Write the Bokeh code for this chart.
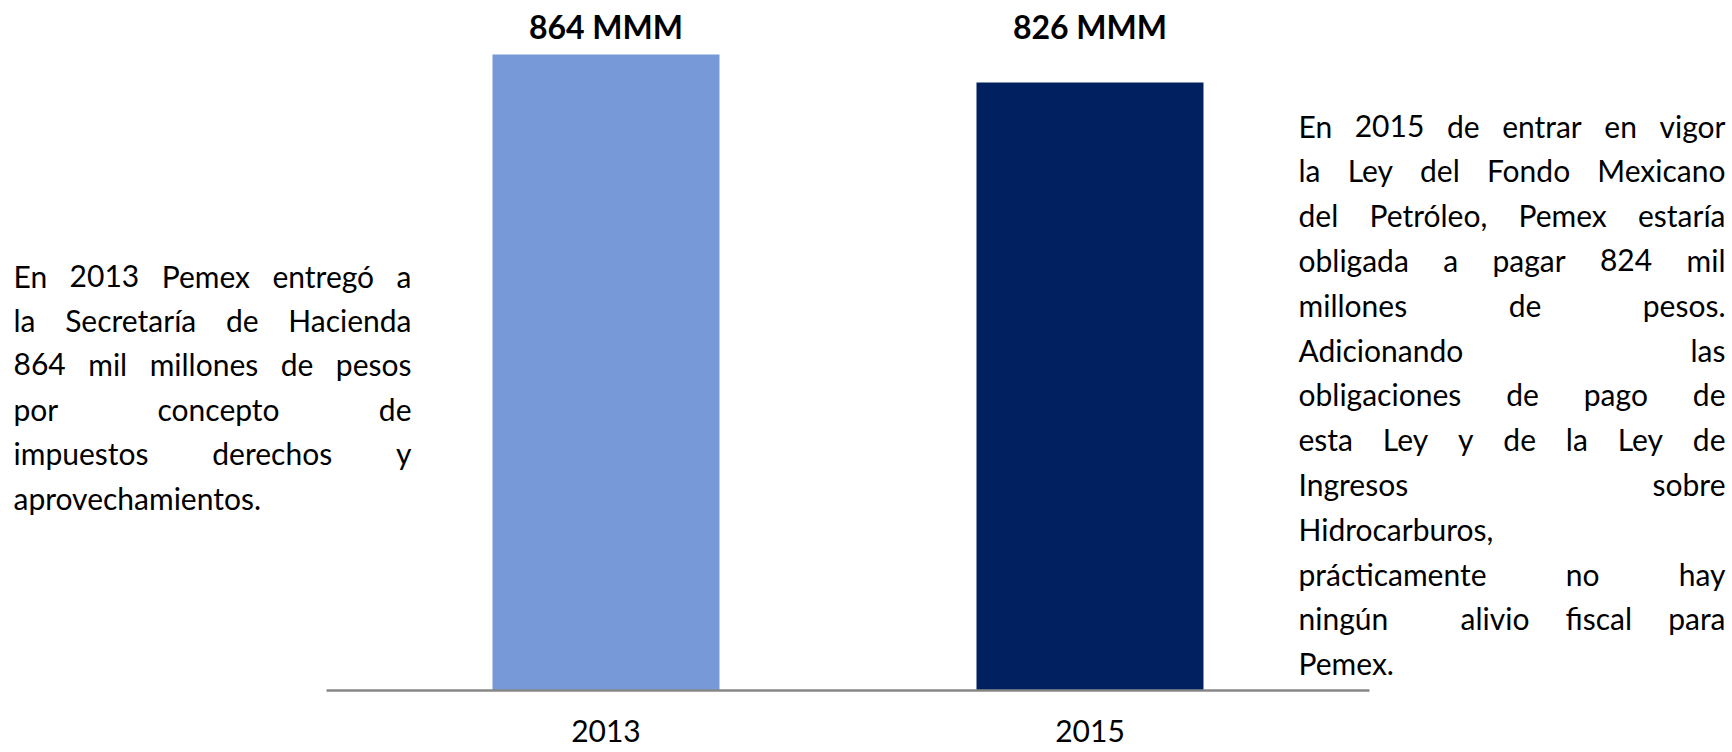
import glob
from bokeh.plotting import figure
from bokeh.models import ColumnDataSource, LabelSet, Label, Range1d, FixedTicker
from bokeh.core.properties import value
from bokeh.embed import file_html
from bokeh.resources import INLINE

# ---------------- data ----------------
years = ["2013", "2015"]
values = [864, 826]
bar_colors = ["#7799D8", "#002060"]
value_labels = [f"{v} MMM" for v in values]

left_lines = [
    "En 2013 Pemex entregó a",
    "la Secretaría de Hacienda",
    "864 mil millones de pesos",
    "por concepto de",
    "impuestos derechos y",
    "aprovechamientos.",
]
left_justify = [True, True, True, True, True, False]

right_lines = [
    "En 2015 de entrar en vigor",
    "la Ley del Fondo Mexicano",
    "del Petróleo, Pemex estaría",
    "obligada a pagar 824 mil",
    "millones de pesos.",
    "Adicionando las",
    "obligaciones de pago de",
    "esta Ley y de la Ley de",
    "Ingresos sobre",
    "Hidrocarburos,",
    "prácticamente no hay",
    "ningún  alivio fiscal para",
    "Pemex.",
]
right_justify = [True, True, True, True, True, True, True, True, True, False, True, True, False]

# ---------------- layout ----------------
W, H = 1732, 752
FONT = "Lato"
BODY_SIZE = 30

_measure = None
try:
    from PIL import ImageFont
    cands = []
    for d in ["/usr/share/fonts", "/usr/local/share/fonts", "/root/.fonts", "/root/.local/share/fonts"]:
        cands += glob.glob(d + "/**/Lato*.ttf", recursive=True)
    cands = [c for c in cands if "Italic" not in c and ("Regular" in c or "Reg" in c)]
    if cands:
        _f = ImageFont.truetype(sorted(cands)[0], BODY_SIZE)
        _measure = lambda s: _f.getlength(s)
except Exception:
    _measure = None

_em = {
    "a": .50, "b": .56, "c": .46, "d": .56, "e": .52, "f": .33, "g": .50, "h": .56,
    "i": .24, "j": .24, "k": .50, "l": .24, "m": .84, "n": .56, "o": .56, "p": .56,
    "q": .56, "r": .37, "s": .42, "t": .35, "u": .56, "v": .51, "w": .78, "x": .50,
    "y": .51, "z": .45, "í": .24, "ó": .56, "á": .50, "ú": .56, ".": .21, ",": .21,
    "M": .88, "E": .56, "P": .58, "L": .47, "F": .54, "S": .50, "H": .75, "A": .68,
    "I": .27, " ": .19,
}


def measure(s):
    if _measure is not None:
        return _measure(s)
    return sum(_em.get(ch, .58 if ch.isdigit() else .62) for ch in s) * BODY_SIZE


xs = list(range(len(years)))
vmax = max(values)

p = figure(
    x_range=Range1d(-1.2510, 2.3275),
    y_range=Range1d(-0.0975 * vmax, 1.0849 * vmax),
    width=W, height=H,
    output_backend="svg", toolbar_location=None,
    y_axis_location=None,
    min_border_left=0, min_border_right=0,
    min_border_top=0, min_border_bottom=0,
)
p.outline_line_color = None
p.xgrid.visible = False
p.ygrid.visible = False
p.background_fill_color = "white"
p.border_fill_color = "white"

src = ColumnDataSource(dict(x=xs, top=values, color=bar_colors,
                            label=value_labels, ly=[vmax] * len(values)))
p.vbar(x="x", top="top", bottom=0, width=0.469, color="color", line_color=None, source=src)

p.add_layout(LabelSet(x="x", y="ly", text="label", source=src, y_offset=15,
                      text_align="center", text_baseline="alphabetic",
                      text_font=value(FONT), text_font_style="bold",
                      text_font_size="32px", text_color="black"))

ax = p.xaxis[0]
ax.fixed_location = 0
ax.bounds = (-0.5775, len(years) - 1 + 0.5775)
ax.ticker = FixedTicker(ticks=xs)
ax.major_label_overrides = {i: y for i, y in zip(xs, years)}
ax.axis_line_color = "#878787"
ax.axis_line_width = 2.5
ax.major_tick_line_color = None
ax.minor_tick_line_color = None
ax.major_tick_out = 0
ax.major_tick_in = 0
ax.major_label_standoff = 30
ax.major_label_text_font = FONT
ax.major_label_text_font_size = "30px"
ax.major_label_text_color = "black"


def add_word(x, y, text, align):
    p.add_layout(Label(x=x, y=y, text=text, x_units="canvas", y_units="canvas",
                       text_align=align, text_baseline="alphabetic",
                       text_font=FONT, text_font_size=f"{BODY_SIZE}px",
                       text_color="black"))


def place(lines, justify, x0, x1, top0, dy):
    for i, (line, j) in enumerate(zip(lines, justify)):
        yb = top0 + i * dy
        words = line.split(" ")
        if j and len(words) > 1:
            widths = [measure(w) for w in words]
            gap = (x1 - x0 - sum(widths)) / (len(words) - 1)
            x = x0
            for k, (w, wd) in enumerate(zip(words, widths)):
                if w:
                    last = k == len(words) - 1
                    add_word(x1 if last else x, yb, w, "right" if last else "left")
                x += wd + gap
        else:
            add_word(x0, yb, line, "left")


place(left_lines, left_justify, 13, 411, 275, 44.4)
place(right_lines, right_justify, 1298, 1725, 125, 44.8)

open("out.html", "w").write(file_html(p, INLINE))
